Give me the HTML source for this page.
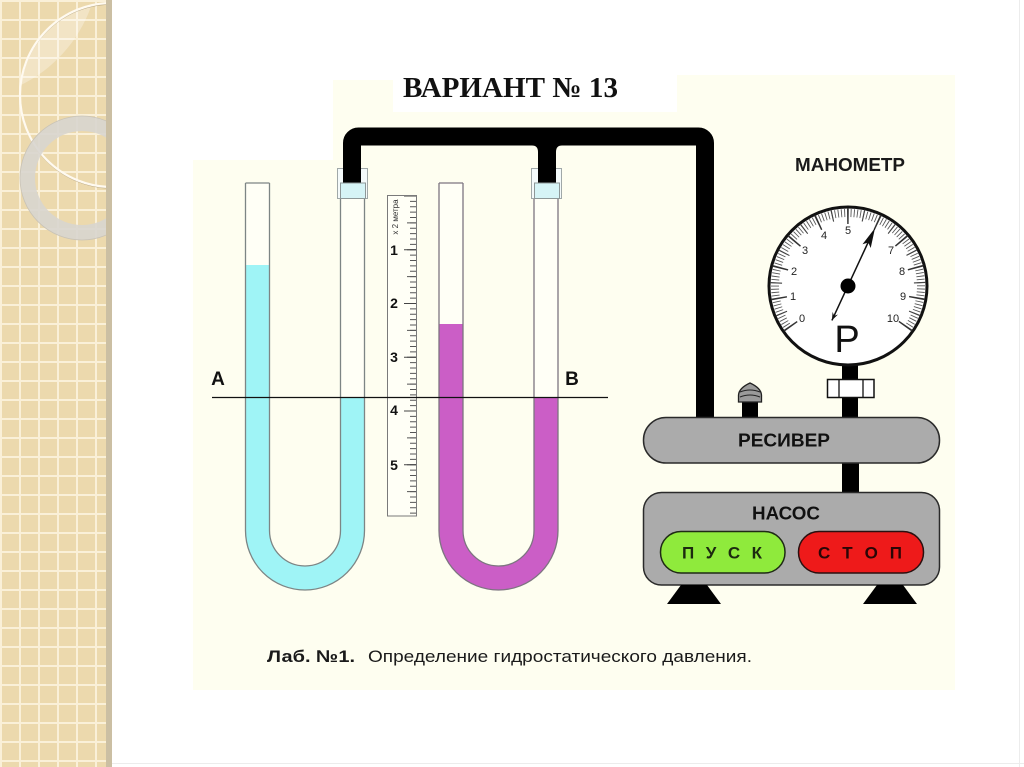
<!DOCTYPE html>
<html><head><meta charset="utf-8"><style>
html,body{margin:0;padding:0;background:#fff;width:1024px;height:767px;overflow:hidden}
svg{display:block}
text{font-family:"Liberation Sans","DejaVu Sans",sans-serif}
</style></head><body>
<svg width="1024" height="767" viewBox="0 0 1024 767" xmlns="http://www.w3.org/2000/svg">
<defs>
  <pattern id="grid" patternUnits="userSpaceOnUse" width="19" height="19">
    <rect width="19" height="19" fill="#ecd9ad"/>
    <rect x="0" y="0" width="2" height="19" fill="#faf0d8"/>
    <rect x="0" y="0" width="19" height="2" fill="#faf0d8"/>
  </pattern>
  <clipPath id="panelClip"><rect x="0" y="0" width="107" height="767"/></clipPath>
  <clipPath id="bigCirc"><circle cx="112" cy="95" r="92"/></clipPath>
</defs>

<!-- left decorative panel -->
<rect x="0" y="0" width="108" height="767" fill="url(#grid)"/>
<g clip-path="url(#panelClip)">
  <g clip-path="url(#bigCirc)">
    <circle cx="-40" cy="-40" r="139" fill="#ffffff" fill-opacity="0.3"/>
  </g>
  <circle cx="112" cy="96" r="92" fill="none" stroke="#b5a582" stroke-width="1.2"/>
  <circle cx="112" cy="95" r="92" fill="none" stroke="#fffaf0" stroke-width="2.2"/>
  <circle cx="82" cy="178" r="54.5" fill="none" stroke="#d8d5cf" stroke-opacity="0.9" stroke-width="15"/>
  <circle cx="82" cy="178" r="62" fill="none" stroke="#c9c3b6" stroke-width="0.8"/>
</g>
<rect x="106" y="0" width="6" height="767" fill="#cbbfa3"/>
<rect x="1019" y="0" width="1" height="767" fill="#ececec"/>
<rect x="112" y="763" width="912" height="1" fill="#ececec"/>

<!-- cream backgrounds -->
<g fill="#fefef0">
  <rect x="193" y="160" width="762" height="530"/>
  <rect x="333" y="80" width="60" height="80"/>
  <rect x="333" y="112" width="344" height="48"/>
  <rect x="677" y="75" width="278" height="85"/>
</g>

<!-- title -->
<text x="403" y="97" font-family="Liberation Serif, serif" font-weight="bold" font-size="29" fill="#111" textLength="215" lengthAdjust="spacingAndGlyphs" style="font-family:'Liberation Serif',serif">ВАРИАНТ № 13</text>

<!-- connector outer boxes -->
<rect x="337.5" y="168.5" width="30" height="30" fill="#f4fafa" stroke="#a0a8a8" stroke-width="1"/>
<rect x="531.5" y="168.5" width="30" height="30" fill="#f4fafa" stroke="#a0a8a8" stroke-width="1"/>

<!-- black pipe -->
<path d="M352 186 V143 A6.5 6.5 0 0 1 358.5 136.5 H698.5 A6.5 6.5 0 0 1 705 143 V419" fill="none" stroke="#000" stroke-width="18"/>
<rect x="538" y="136" width="18" height="50" fill="#000"/>
<path d="M532 145.5 Q538 145.5 538 152 L538 145 Z" fill="#000"/>
<path d="M562 145.5 Q556 145.5 556 152 L556 145 Z" fill="#000"/>

<!-- connector inner cyan parts -->
<rect x="340.5" y="183" width="25" height="15.5" fill="#d6f4f6" stroke="#8e9898" stroke-width="1"/>
<rect x="534.5" y="183" width="25" height="15.5" fill="#d6f4f6" stroke="#8e9898" stroke-width="1"/>

<!-- U tube A (cyan) -->
<path d="M245.5 183 H269.5 V530.5 A35.5 35.5 0 0 0 340.5 530.5 V199 H364.5 V530.5 A59.5 59.5 0 0 1 245.5 530.5 Z" fill="#fffff6"/>
<path d="M245.5 265 H269.5 V530.5 A35.5 35.5 0 0 0 340.5 530.5 V397 H364.5 V530.5 A59.5 59.5 0 0 1 245.5 530.5 Z" fill="#9ff4f6"/>
<path d="M245.5 183 V530.5 A59.5 59.5 0 0 0 364.5 530.5 V199 M269.5 183 V530.5 A35.5 35.5 0 0 0 340.5 530.5 V199 M245.5 183 H269.5" fill="none" stroke="#7d8585" stroke-width="1.3"/>

<!-- U tube B (magenta) -->
<path d="M439 183 H463 V530.5 A35.5 35.5 0 0 0 534 530.5 V199 H558 V530.5 A59.5 59.5 0 0 1 439 530.5 Z" fill="#fffff6"/>
<path d="M439 324 H463 V530.5 A35.5 35.5 0 0 0 534 530.5 V397 H558 V530.5 A59.5 59.5 0 0 1 439 530.5 Z" fill="#cb5ec6"/>
<path d="M439 183 V530.5 A59.5 59.5 0 0 0 558 530.5 V199 M463 183 V530.5 A35.5 35.5 0 0 0 534 530.5 V199 M439 183 H463" fill="none" stroke="#7d7580" stroke-width="1.3"/>

<!-- ruler -->
<rect x="387.5" y="195.5" width="29" height="320.5" fill="#fffff6" stroke="#7a7a7a" stroke-width="1"/>
<line x1="413" y1="196" x2="413" y2="515.5" stroke="#555" stroke-width="6" stroke-dasharray="0.9 4.475" stroke-dashoffset="0.45"/>
<line x1="411.5" y1="196" x2="411.5" y2="515.5" stroke="#555" stroke-width="9" stroke-dasharray="0.9 25.975" stroke-dashoffset="-26.425"/>
<line x1="410" y1="196" x2="410" y2="515.5" stroke="#444" stroke-width="12" stroke-dasharray="1.1 52.65" stroke-dashoffset="0.55"/>
<text x="395" y="217" font-size="8" fill="#333" text-anchor="middle" transform="rotate(-90 395 217)" dy="3">x 2 метра</text>
<g font-size="14" font-weight="bold" fill="#111" text-anchor="middle">
  <text x="394" y="255">1</text>
  <text x="394" y="308">2</text>
  <text x="394" y="362">3</text>
  <text x="394" y="415">4</text>
  <text x="394" y="470">5</text>
</g>

<!-- A-B line -->
<line x1="212" y1="397.5" x2="608" y2="397.5" stroke="#111" stroke-width="1.3"/>
<text x="218" y="385" font-size="19" font-weight="bold" fill="#111" text-anchor="middle">A</text>
<text x="572" y="385" font-size="19" font-weight="bold" fill="#111" text-anchor="middle">B</text>

<!-- manometer -->
<text x="795" y="171" font-size="18" font-weight="bold" fill="#1a1a1a" textLength="110" lengthAdjust="spacingAndGlyphs">МАНОМЕТР</text>
<rect x="842" y="360" width="16" height="59" fill="#000"/>
<rect x="827.5" y="379.5" width="46.5" height="18" fill="#fff" stroke="#111" stroke-width="1.5"/>
<line x1="839" y1="379.5" x2="839" y2="397.5" stroke="#111" stroke-width="1.3"/>
<line x1="863" y1="379.5" x2="863" y2="397.5" stroke="#111" stroke-width="1.3"/>
<circle cx="848" cy="286" r="79" fill="#fff" stroke="#111" stroke-width="3"/>
<!-- ticks -->
<path d="M789.13 329.16 A73 73 0 1 1 906.87 329.16" fill="none" stroke="#555" stroke-width="8" pathLength="101" stroke-dasharray="0.28 0.72" stroke-dashoffset="-0.36"/>
<path d="M789.94 328.57 A72 72 0 1 1 906.06 328.57" fill="none" stroke="#444" stroke-width="12" pathLength="10.1" stroke-dasharray="0.038 0.962" stroke-dashoffset="-0.531"/>
<path d="M791.55 327.39 A70 70 0 1 1 904.45 327.39" fill="none" stroke="#333" stroke-width="16" pathLength="10.1" stroke-dasharray="0.052 0.948" stroke-dashoffset="-0.024"/>
<g font-size="11" fill="#222" text-anchor="middle">
  <text x="802" y="322">0</text>
  <text x="793" y="300">1</text>
  <text x="794" y="275">2</text>
  <text x="805" y="254">3</text>
  <text x="824" y="239">4</text>
  <text x="848" y="234">5</text>
  <text x="891" y="254">7</text>
  <text x="902" y="275">8</text>
  <text x="903" y="300">9</text>
  <text x="893" y="322">10</text>
</g>
<text x="847" y="352" font-size="38" fill="#111" text-anchor="middle">P</text>
<!-- needle -->
<line x1="831.9" y1="320.4" x2="872" y2="234" stroke="#111" stroke-width="1.5"/>
<polygon points="875.05,228 870.7,248 868.3,242.5 862.5,244.2" fill="#111"/>
<polygon points="831.9,320.4 838.0,314.5 834.05,315.9 832.6,311.9" fill="#111"/>
<circle cx="848" cy="286" r="7.5" fill="#000"/>

<!-- valve -->
<rect x="742" y="400" width="16" height="19" fill="#000"/>
<path d="M738.5 402 V395 Q739 388 750 383 Q761 388 761.5 395 V402 Z" fill="#9a9a9a" stroke="#222" stroke-width="1.3"/>
<path d="M740 392 Q750 388 760 392 M740 397 Q750 393 760 397" fill="none" stroke="#222" stroke-width="1"/>

<!-- receiver -->
<rect x="842" y="462" width="17" height="31" fill="#000"/>
<rect x="643.5" y="417.5" width="296" height="45.5" rx="22.5" fill="#ababab" stroke="#2a2a2a" stroke-width="1.5"/>
<text x="738" y="446.5" font-size="18" font-weight="bold" fill="#111" textLength="92" lengthAdjust="spacingAndGlyphs">РЕСИВЕР</text>

<!-- pump -->
<rect x="643.5" y="492.5" width="296" height="92.5" rx="18" fill="#ababab" stroke="#2a2a2a" stroke-width="1.5"/>
<text x="752" y="519.5" font-size="18" font-weight="bold" fill="#111" textLength="68" lengthAdjust="spacingAndGlyphs">НАСОС</text>
<rect x="660.5" y="531.5" width="124.5" height="41.5" rx="20.5" fill="#8fea3c" stroke="#1f2a15" stroke-width="1.5"/>
<text x="682" y="558.5" font-size="17" font-weight="bold" fill="#1c2a10" textLength="80" lengthAdjust="spacing">П У С К</text>
<rect x="798.5" y="531.5" width="125" height="41.5" rx="20.5" fill="#ee1a1a" stroke="#2a1010" stroke-width="1.5"/>
<text x="818" y="558.5" font-size="17" font-weight="bold" fill="#2a0606" textLength="84" lengthAdjust="spacing">С Т О П</text>

<!-- feet -->
<polygon points="681,585 707,585 721,604 667,604" fill="#000"/>
<polygon points="877,585 903,585 917,604 863,604" fill="#000"/>

<!-- caption -->
<text x="267" y="662" font-size="17" font-weight="bold" fill="#1a1a1a" textLength="88" lengthAdjust="spacingAndGlyphs">Лаб. №1.</text>
<text x="368" y="662" font-size="17" fill="#1a1a1a" textLength="384" lengthAdjust="spacingAndGlyphs">Определение гидростатического давления.</text>
</svg>
</body></html>
